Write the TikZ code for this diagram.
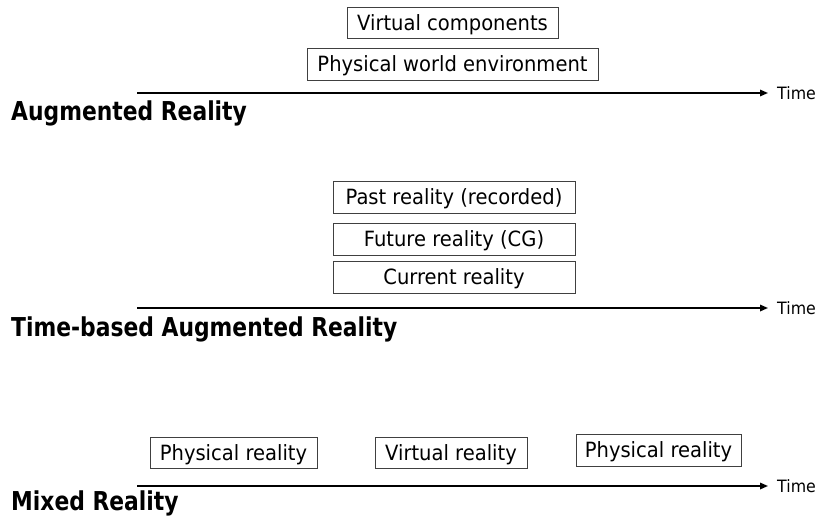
\documentclass[tikz,border=0pt]{standalone}
\usepackage{fontspec}
\setmainfont{DejaVu Sans}
\newfontfamily\labelfont{DejaVu Sans}[FakeStretch=0.84]
\newfontfamily\boxfont{DejaVu Sans}[FakeStretch=0.93]
\usetikzlibrary{arrows.meta}
\begin{document}
\begin{tikzpicture}[x=1pt,y=-1pt,
  box/.style={draw=black!75, line width=0.8pt, inner sep=0pt, font=\boxfont\fontsize{21}{25}\selectfont, text height=15.3pt, text depth=0pt},
  timeline/.style={line width=1.6pt, -{Triangle[length=8pt,width=6.5pt]}},
  timelabel/.style={anchor=west, inner sep=0pt, font=\boxfont\fontsize{17}{20}\selectfont},
  sectlabel/.style={anchor=base west, inner sep=0pt, font=\labelfont\bfseries\fontsize{26}{30}\selectfont}]
\useasboundingbox (0,0) rectangle (820,517);
% Section 1
\node[box, minimum width=211pt, minimum height=31pt] (vc) at (452.5,22.5) {Virtual components};
\node[box, minimum width=291pt, minimum height=32pt] (pw) at (452.5,64) {Physical world environment};
\coordinate (s1) at (137,93);
\node[timelabel] (t1) at (777,93) {Time};
\draw[timeline] (s1) -- ([xshift=-9pt]t1.west);
\node[sectlabel] (l1) at (11,120) {Augmented Reality};
% Section 2
\node[box, minimum width=242pt, minimum height=32pt] (past) at (454,197) {Past reality (recorded)};
\node[box, minimum width=242pt, minimum height=32pt] (fut) at (454,239) {Future reality (CG)};
\node[box, minimum width=242pt, minimum height=32pt] (cur) at (454,277) {Current reality};
\coordinate (s2) at (137,308);
\node[timelabel] (t2) at (777,308) {Time};
\draw[timeline] (s2) -- ([xshift=-9pt]t2.west);
\node[sectlabel] (l2) at (11,336) {Time-based Augmented Reality};
% Section 3
\node[box, minimum width=167pt, minimum height=31pt] (pr1) at (233.5,452.5) {Physical reality};
\node[box, minimum width=152pt, minimum height=31pt] (vr) at (451,452.5) {Virtual reality};
\node[box, minimum width=165pt, minimum height=32pt] (pr2) at (658.5,450) {Physical reality};
\coordinate (s3) at (137,486);
\node[timelabel] (t3) at (777,486) {Time};
\draw[timeline] (s3) -- ([xshift=-9pt]t3.west);
\node[sectlabel] (l3) at (11,510) {Mixed Reality};
\end{tikzpicture}
\end{document}
